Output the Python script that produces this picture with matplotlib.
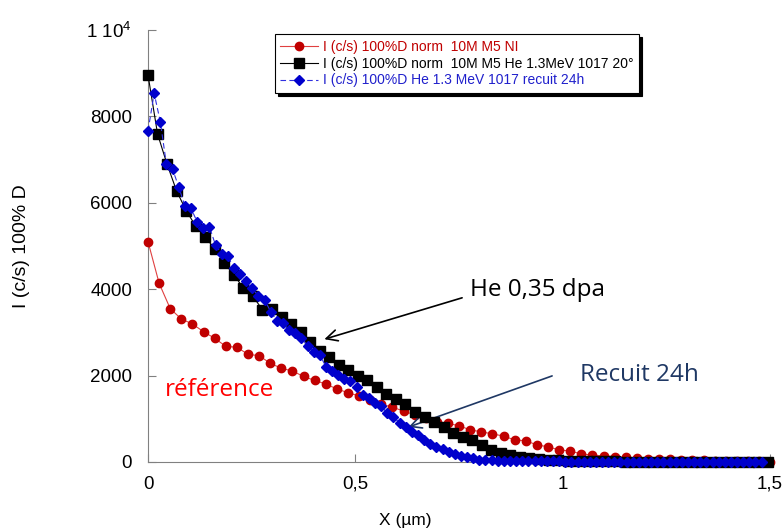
import numpy as np
import matplotlib
matplotlib.use("Agg")
import matplotlib.pyplot as plt
from matplotlib.ticker import FuncFormatter

# profil de reference (NI)
x_ref = np.arange(57) * 0.0268
y_ref = [5100, 4137, 3549, 3310, 3194, 3016, 2863, 2678, 2655, 2493,
         2461, 2285, 2169, 2106, 1980, 1887, 1806, 1690, 1604, 1528,
         1435, 1343, 1266, 1181, 1088, 1012, 926, 891, 840, 741,
         701, 648, 602, 509, 493, 394, 354, 278, 255, 185,
         162, 139, 123, 109, 86, 69, 62, 58, 50, 42,
         35, 30, 25, 20, 16, 13, 10]

# He 1.3 MeV 20 deg
x_he = np.arange(66) * 0.023
y_he = [8958, 7593, 6891, 6273, 5817, 5463, 5201, 4937, 4595, 4340,
        4021, 3836, 3525, 3535, 3356, 3183, 2998, 2778, 2569, 2424,
        2245, 2118, 1984, 1898, 1725, 1574, 1458, 1331, 1146, 1049,
        933, 810, 664, 586, 509, 394, 278, 215, 162, 123,
        86, 62, 46, 35, 28, 22, 18, 15, 13, 12,
        11, 10, 10, 10, 10, 10, 10, 10, 10, 10,
        10, 10, 10, 10, 10, 10]

# He recuit 24h
x_rec = np.arange(101) * 0.0148
y_rec = [7662, 8535, 7877, 6891, 6775, 6373, 5926, 5873, 5563, 5410,
         5447, 5023, 4822, 4769, 4484, 4352, 4197, 4021, 3843, 3750,
         3479, 3271, 3211, 3056, 2979, 2880, 2685, 2553, 2477, 2206,
         2113, 2014, 1914, 1875, 1729, 1551, 1475, 1373, 1296, 1127,
         1035, 910, 817, 701, 625, 509, 417, 354, 294, 238,
         185, 139, 109, 86, 46, 46, 35, 30, 26, 22,
         20, 18, 16, 15, 14, 13, 12, 12, 11, 11,
         10, 10, 10, 10, 10, 10, 10, 10, 10, 10,
         10, 10, 10, 10, 10, 10, 10, 10, 10, 10,
         10, 10, 10, 10, 10, 10, 10, 10, 10, 10, 10]

labels = ["I (c/s) 100%D norm  10M M5 NI",
          "I (c/s) 100%D norm  10M M5 He 1.3MeV 1017 20°",
          "I (c/s) 100%D He 1.3 MeV 1017 recuit 24h"]

plt.rcParams['font.family'] = ['Liberation Sans', 'DejaVu Sans']

fig = plt.figure(figsize=(7.84, 5.32), dpi=100)
ax = fig.add_axes([0.1888, 0.1316, 0.7932, 0.812])

ax.plot(x_ref, y_ref, color='#e04040', lw=0.8, marker='o', ms=6,
        mfc='#c00000', mec='#c00000', clip_on=False, label=labels[0], zorder=3)
ax.plot(x_he, y_he, color='black', lw=0.8, marker='s', ms=7.5,
        mfc='black', mec='black', clip_on=False, label=labels[1], zorder=4)
ax.plot(x_rec, y_rec, color='#3030e0', lw=0.8, ls=(0, (5, 3)), marker='D', ms=5.5,
        mfc='#0000cc', mec='#0000cc', clip_on=False, label=labels[2], zorder=5)

ax.set_xlim(0, 1.5)
ax.set_ylim(0, 10000)
ax.set_xticks([0, 0.5, 1, 1.5])
ax.set_yticks([0, 2000, 4000, 6000, 8000, 10000])

def fmt_x(v, pos):
    s = ('%g' % v).replace('.', ',')
    return s

def fmt_y(v, pos):
    if v >= 10000:
        return r'1 10$^{\mathregular{4}}$'
    return '%d' % v

ax.xaxis.set_major_formatter(FuncFormatter(fmt_x))
ax.yaxis.set_major_formatter(FuncFormatter(fmt_y))
ax.tick_params(direction='in', length=6, width=0.8, color='#808080',
               labelsize=13.5, pad=10)
ax.tick_params(axis='y', pad=11.5)
for side in ['top', 'right']:
    ax.spines[side].set_visible(False)
for side in ['left', 'bottom']:
    ax.spines[side].set_color('#808080')

ax.set_ylabel("I (c/s) 100% D", fontsize=14)
ax.yaxis.set_label_coords(-0.19, 0.5)
fig.text(405 / 784, 1 - 520 / 532, "X (µm)", fontsize=12.5, ha='center', va='center')

leg = ax.legend(loc='upper left', bbox_to_anchor=(0.204, 0.99), fontsize=10,
                frameon=True, fancybox=False, shadow={'color': 'black', 'alpha': 1},
                borderpad=0.4, labelspacing=0.2, handlelength=2.7, handletextpad=0.35,
                borderaxespad=0)
leg.get_frame().set_edgecolor('black')
leg.get_frame().set_linewidth(0.8)
for t, c in zip(leg.get_texts(), ['#c00000', 'black', '#2020cc']):
    t.set_color(c)

# annotations
ax.annotate('', xy=(0.419, 2824), xytext=(0.764, 3819),
            arrowprops=dict(arrowstyle='->', color='black', lw=1.2, mutation_scale=20))
ax.text(0.776, 3981, "He 0,35 dpa", fontsize=17.5, family='Open Sans', va='center')

ax.annotate('', xy=(0.622, 787), xytext=(0.981, 2014),
            arrowprops=dict(arrowstyle='->', color='#1f3864', lw=1.2, mutation_scale=20))
ax.text(1.041, 2014, "Recuit 24h", fontsize=17.5, family='Open Sans', va='center',
        color='#1f3864')

ax.text(0.041, 1667, "référence", fontsize=17.5, family='Open Sans', va='center',
        color='#ff0000')

fig.savefig("out.png", dpi=100)
